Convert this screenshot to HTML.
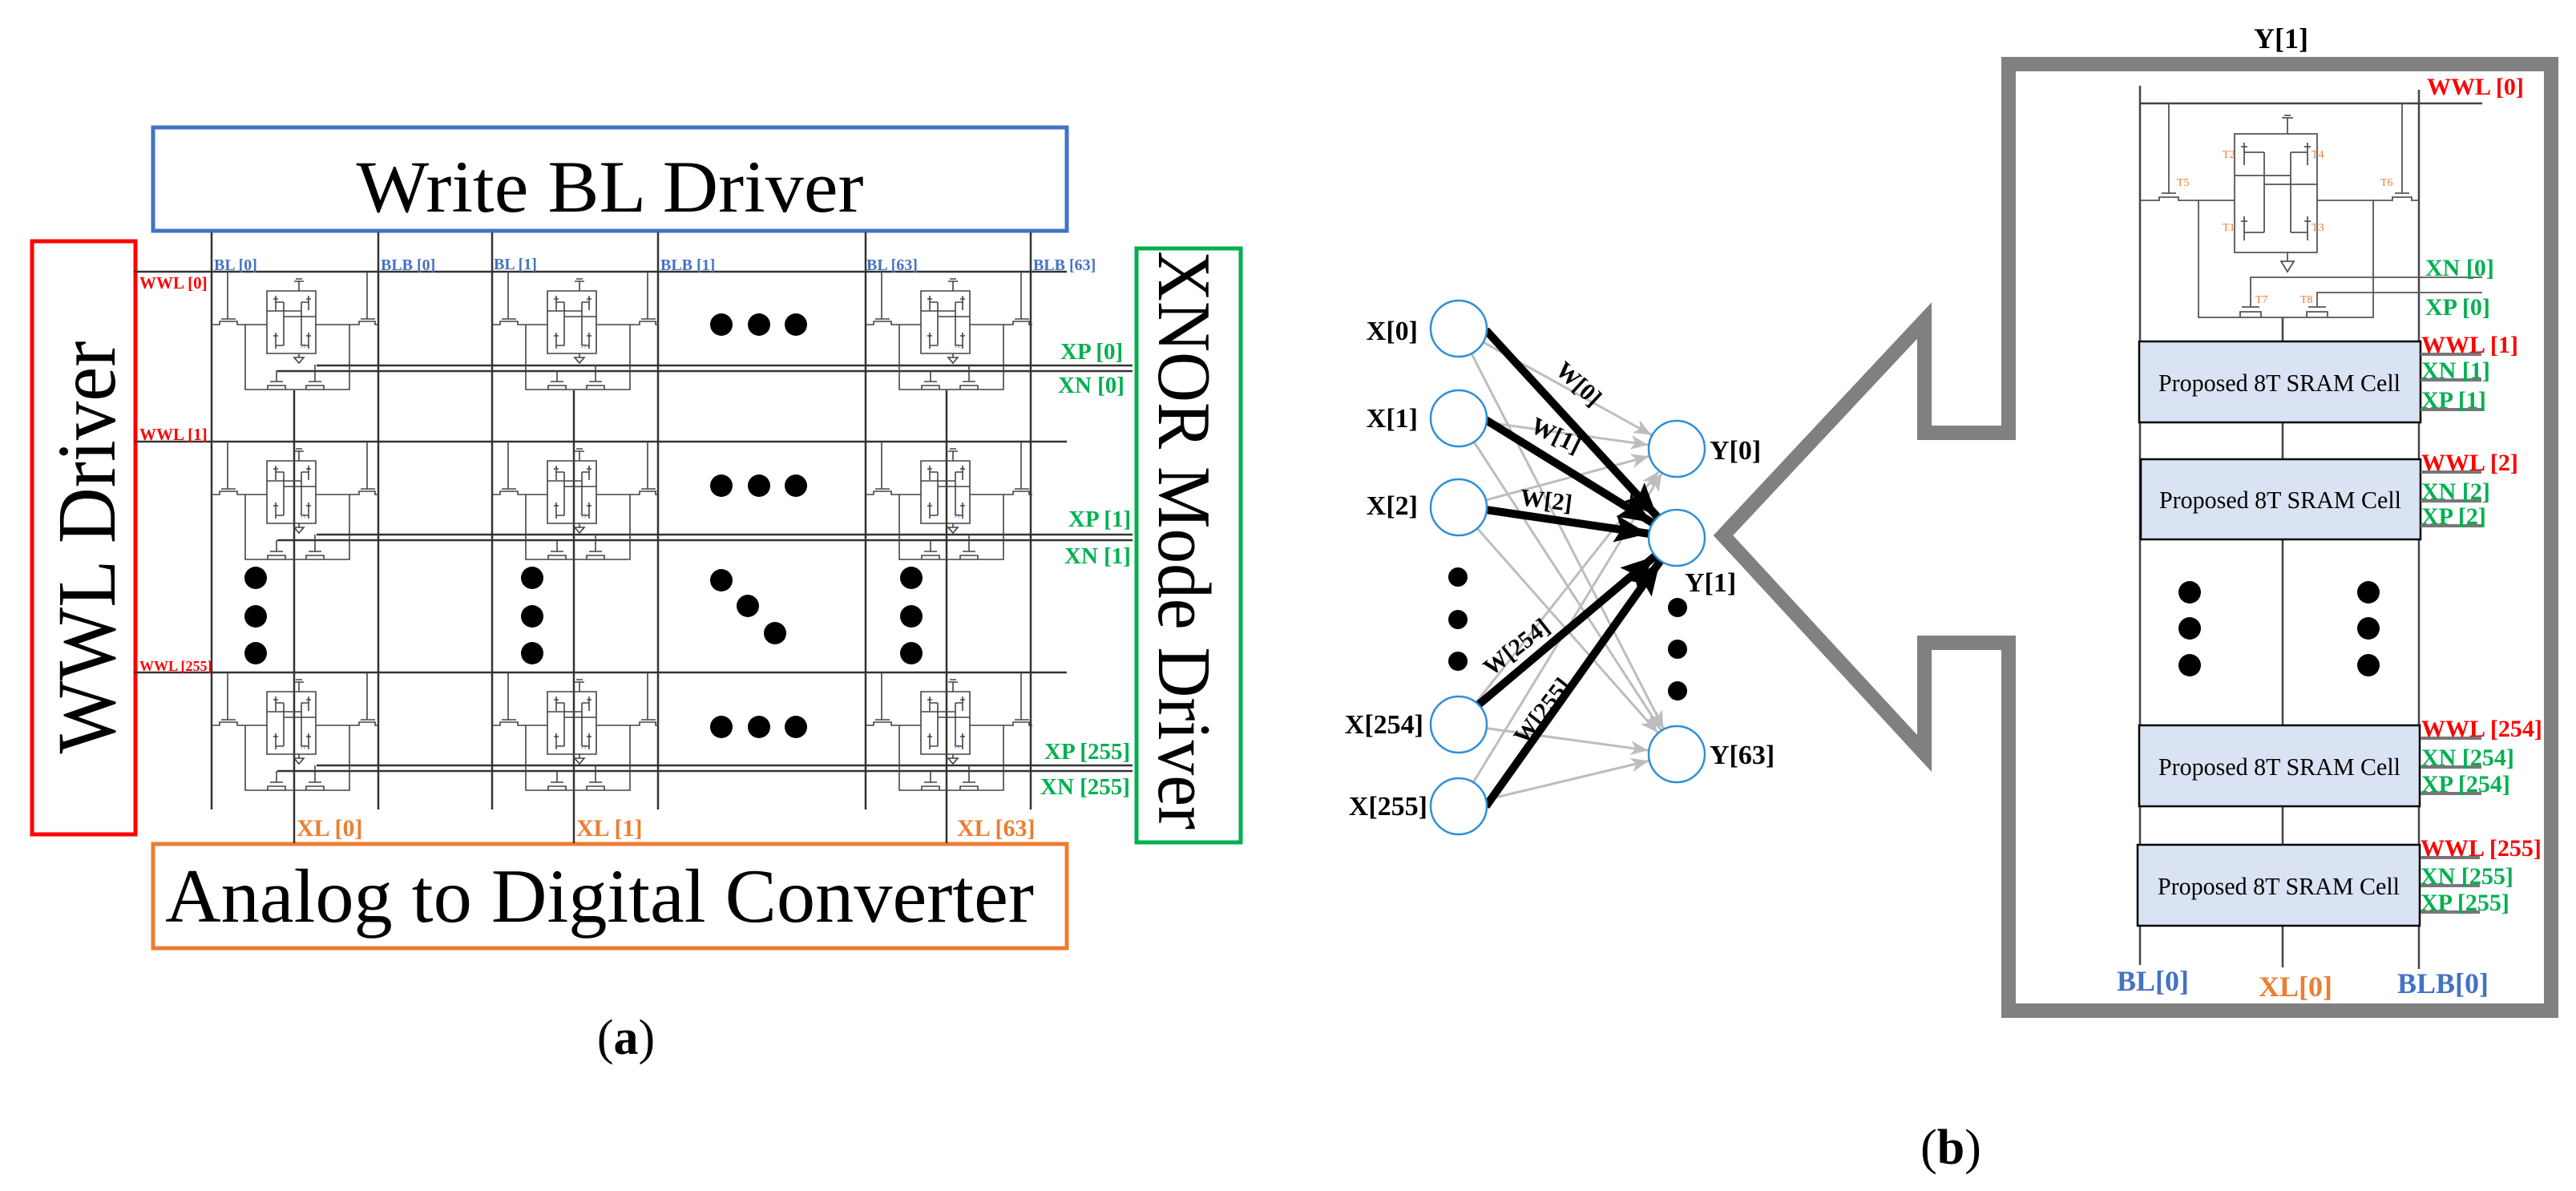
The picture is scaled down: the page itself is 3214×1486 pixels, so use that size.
<!DOCTYPE html>
<html><head><meta charset="utf-8"><style>
html,body{margin:0;padding:0;background:#fff;}
svg{display:block;}
text{font-family:"Liberation Serif",serif;}
</style></head><body>
<svg width="3214" height="1486" viewBox="0 0 3214 1486" xmlns="http://www.w3.org/2000/svg">
<defs>
  <g id="cellA" fill="none" stroke="#444" stroke-width="1.6">
    <path d="M20 0 V59 M12 59 H30 M0 66 H10 V62 H32 V66 H69"/>
    <path d="M194 0 V59 M186 59 H204 M130 66 H184 V62 H204 V66 H208"/>
    <path d="M69 24 V102 H130 V24 Z"/>
    <path d="M109 12 V24 M103 12 H115 M105 9 H113"/>
    <path d="M80 30 V48 M77 34 H83 M80 76 V96 M77 80 H83 M121 30 V48 M118 34 H124 M121 76 V96 M118 80 H124"/>
    <path d="M90 38 V92 M112 38 V92 M69 49 H112 M90 56 H130 M80 38 H90 M112 38 H121 M80 92 H90 M112 92 H121"/>
    <path d="M109 102 V107 M103 107 H115 L109 114 Z"/>
    <path d="M42 66 V147 H172 V66 M70 147 V142 H92 V147 M118 147 V142 H140 V147 M73 137 H89 M121 137 H137 M81 137 V123 M129 137 V116"/>
    <text x="110" y="95" font-size="7" fill="#4472c4" stroke="none">T1</text>
  </g>
  <marker id="ga" markerUnits="userSpaceOnUse" viewBox="-60 -20 80 40" markerWidth="80" markerHeight="40" refX="36" refY="0" orient="auto">
    <path d="M-22,-9 L0,0 L-22,9 L-16,0 Z" fill="#bdbdbd"/>
  </marker>
  <marker id="ba" markerUnits="userSpaceOnUse" viewBox="-80 -30 120 60" markerWidth="120" markerHeight="60" refX="36" refY="0" orient="auto">
    <path d="M-42,-17 L0,0 L-42,17 L-34,0 Z" fill="#000"/>
  </marker>
</defs>

<!-- ============ (a) ============ -->
<rect x="191" y="159" width="1140" height="129" fill="none" stroke="#4472c4" stroke-width="5"/>
<text x="761" y="264" font-size="92" text-anchor="middle" textLength="633" lengthAdjust="spacingAndGlyphs">Write BL Driver</text>
<rect x="40" y="301" width="129" height="740" fill="none" stroke="#ff0000" stroke-width="5"/>
<text transform="translate(143,683) rotate(-90)" font-size="104" text-anchor="middle" textLength="515" lengthAdjust="spacingAndGlyphs">WWL Driver</text>
<rect x="1418" y="310" width="130" height="741" fill="none" stroke="#00b050" stroke-width="5"/>
<text transform="translate(1446,674) rotate(90)" font-size="94" text-anchor="middle" textLength="722" lengthAdjust="spacingAndGlyphs">XNOR Mode Driver</text>
<rect x="191" y="1053" width="1140" height="130" fill="none" stroke="#ed7d31" stroke-width="5"/>
<text x="206" y="1150" font-size="95" textLength="1084" lengthAdjust="spacingAndGlyphs">Analog to Digital Converter</text>

<g stroke="#333" stroke-width="2.5" fill="none">
  <path d="M264 290 V1010 M472 290 V1010 M614 290 V1010 M821 290 V1010 M1080 290 V1010 M1286 290 V1010"/>
  <path d="M168 339 H1331 M168 551 H1331 M168 839 H1331"/>
  <path d="M367 487 V1052 M716 487 V1052 M1181 487 V1052"/>
  <path d="M395 456 H1413 M346 463 H1413 M395 667 H1413 M346 674 H1413 M395 955 H1413 M346 962 H1413"/>
</g>
<use href="#cellA" x="264" y="339"/><use href="#cellA" x="614" y="339"/><use href="#cellA" x="1080" y="339"/>
<use href="#cellA" x="264" y="551"/><use href="#cellA" x="614" y="551"/><use href="#cellA" x="1080" y="551"/>
<use href="#cellA" x="264" y="839"/><use href="#cellA" x="614" y="839"/><use href="#cellA" x="1080" y="839"/>

<g fill="#000">
  <circle cx="900" cy="405" r="14"/><circle cx="947" cy="405" r="14"/><circle cx="993" cy="405" r="14"/>
  <circle cx="900" cy="606" r="14"/><circle cx="947" cy="606" r="14"/><circle cx="993" cy="606" r="14"/>
  <circle cx="900" cy="907" r="14"/><circle cx="947" cy="907" r="14"/><circle cx="993" cy="907" r="14"/>
  <circle cx="319" cy="721" r="14"/><circle cx="319" cy="769" r="14"/><circle cx="319" cy="815" r="14"/>
  <circle cx="664" cy="721" r="14"/><circle cx="664" cy="769" r="14"/><circle cx="664" cy="815" r="14"/>
  <circle cx="1137" cy="721" r="14"/><circle cx="1137" cy="769" r="14"/><circle cx="1137" cy="815" r="14"/>
  <circle cx="900" cy="724" r="14"/><circle cx="933" cy="756" r="14"/><circle cx="967" cy="790" r="14"/>
</g>

<g font-size="20" font-weight="bold" fill="#4472c4">
  <text x="267" y="337">BL [0]</text><text x="475" y="337">BLB [0]</text>
  <text x="616" y="336">BL [1]</text><text x="824" y="337">BLB [1]</text>
  <text x="1081" y="337">BL [63]</text><text x="1289" y="337">BLB [63]</text>
</g>
<g font-size="21" font-weight="bold" fill="#ff0000">
  <text x="174" y="360">WWL [0]</text><text x="174" y="549">WWL [1]</text>
  <text x="174" y="837" font-size="18">WWL [255]</text>
</g>
<g font-size="29" font-weight="bold" fill="#00b050">
  <text x="1323" y="448">XP [0]</text><text x="1320" y="490">XN [0]</text>
  <text x="1333" y="657">XP [1]</text><text x="1328" y="703">XN [1]</text>
  <text x="1303" y="947">XP [255]</text><text x="1298" y="991">XN [255]</text>
</g>
<g font-size="30" font-weight="bold" fill="#ed7d31">
  <text x="370" y="1043">XL [0]</text><text x="719" y="1043">XL [1]</text><text x="1194" y="1043">XL [63]</text>
</g>
<text x="781" y="1315" font-size="62" text-anchor="middle">(<tspan font-weight="bold">a</tspan>)</text>

<!-- ============ NN ============ -->
<g stroke="#bdbdbd" stroke-width="3" fill="none" marker-end="url(#ga)">
  <line x1="1820" y1="410" x2="2092" y2="560"/><line x1="1820" y1="410" x2="2092" y2="941"/>
  <line x1="1820" y1="522" x2="2092" y2="560"/><line x1="1820" y1="522" x2="2092" y2="941"/>
  <line x1="1820" y1="633" x2="2092" y2="560"/><line x1="1820" y1="633" x2="2092" y2="941"/>
  <line x1="1820" y1="904" x2="2092" y2="560"/><line x1="1820" y1="904" x2="2092" y2="941"/>
  <line x1="1820" y1="1006" x2="2092" y2="560"/><line x1="1820" y1="1006" x2="2092" y2="941"/>
</g>
<g stroke="#000" stroke-width="10" fill="none" marker-end="url(#ba)">
  <line x1="1854" y1="412" x2="2092" y2="671"/>
  <line x1="1854" y1="524" x2="2092" y2="671"/>
  <line x1="1854" y1="636" x2="2092" y2="671"/>
  <line x1="1845" y1="879" x2="2092" y2="671"/>
  <line x1="1854" y1="1006" x2="2092" y2="671"/>
</g>
<g fill="#fff" stroke="#2e8fd8" stroke-width="2.5">
  <circle cx="1820" cy="410" r="35"/><circle cx="1820" cy="522" r="35"/><circle cx="1820" cy="633" r="35"/>
  <circle cx="1820" cy="904" r="35"/><circle cx="1820" cy="1006" r="35"/>
  <circle cx="2092" cy="560" r="35"/><circle cx="2092" cy="671" r="35"/><circle cx="2092" cy="941" r="35"/>
</g>
<g fill="#000">
  <circle cx="1819" cy="720" r="12"/><circle cx="1819" cy="773" r="12"/><circle cx="1819" cy="825" r="12"/>
  <circle cx="2093" cy="758" r="12"/><circle cx="2093" cy="810" r="12"/><circle cx="2093" cy="862" r="12"/>
</g>
<g font-size="34" font-weight="bold" text-anchor="end">
  <text x="1769" y="424">X[0]</text><text x="1769" y="533">X[1]</text><text x="1769" y="642">X[2]</text>
  <text x="1776" y="915">X[254]</text><text x="1781" y="1017">X[255]</text>
</g>
<g font-size="34" font-weight="bold">
  <text x="2133" y="573">Y[0]</text><text x="2102" y="738">Y[1]</text><text x="2133" y="953">Y[63]</text>
</g>
<g font-size="30" font-weight="bold" text-anchor="middle">
  <text transform="translate(1963,486) rotate(43)">W[0]</text>
  <text transform="translate(1937,552) rotate(26)">W[1]</text>
  <text transform="translate(1928,634) rotate(7)">W[2]</text>
  <text transform="translate(1898,815) rotate(-38)">W[254]</text>
  <text transform="translate(1932,893) rotate(-52)">W[255]</text>
</g>

<!-- ============ (b) ============ -->
<path d="M2506 540 H2401 V400 L2150 668 L2401 940 V802 H2506 V1261 H3183 V80 H2506 Z" fill="none" stroke="#808080" stroke-width="18" stroke-linejoin="miter" stroke-miterlimit="10"/>
<text x="2846" y="60" font-size="36" font-weight="bold" text-anchor="middle">Y[1]</text>

<g stroke="#444" stroke-width="2.5" fill="none">
  <path d="M2670 107 V1204 M3018 112 V1209 M2848 396 V1207"/>
  <path d="M2670 129 H3097"/>
</g>
<g stroke="#555" stroke-width="1.8" fill="none">
  <path d="M2706 129 V241 M2697 241 H2715 M2670 250 H2694 V246 H2718 V250 H2788"/>
  <path d="M2997 129 V241 M2988 241 H3006 M2891 250 H2985 V246 H3009 V250 H3018"/>
  <path d="M2788 167 V315 H2891 V167 Z"/>
  <path d="M2854 147 V167 M2847 147 H2861 M2850 144 H2858"/>
  <path d="M2800 178 V206 M2796 183 H2804 M2800 270 V300 M2796 276 H2804 M2879 178 V206 M2875 183 H2883 M2879 270 V300 M2875 276 H2883"/>
  <path d="M2825 190 V290 M2858 190 V290 M2788 219 H2858 M2825 230 H2891 M2800 190 H2825 M2858 190 H2879 M2800 290 H2825 M2858 290 H2879"/>
  <path d="M2854 315 V326 M2846 326 H2862 L2854 339 Z"/>
  <path d="M2743 250 V396 H2961 V250 M2795 396 V389 H2821 V396 M2878 396 V389 H2904 V396 M2797 383 H2819 M2880 383 H2902"/>
  <path d="M2808 383 V346 H3097 M2891 383 V365 H3097"/>
</g>
<g font-size="14" fill="#ed7d31">
  <text x="2773" y="197">T2</text><text x="2884" y="197">T4</text>
  <text x="2716" y="232">T5</text><text x="2970" y="232">T6</text>
  <text x="2773" y="288">T1</text><text x="2884" y="288">T3</text>
  <text x="2814" y="378">T7</text><text x="2870" y="378">T8</text>
</g>

<g fill="#dae3f3" stroke="#000" stroke-width="2.5">
  <rect x="2669" y="426" width="351" height="101"/>
  <rect x="2671" y="573" width="349" height="100"/>
  <rect x="2669" y="905" width="350" height="101"/>
  <rect x="2667" y="1054" width="352" height="101"/>
</g>
<g font-size="31" text-anchor="middle">
  <text x="2844" y="488" textLength="302" lengthAdjust="spacingAndGlyphs">Proposed 8T SRAM Cell</text>
  <text x="2845" y="634" textLength="302" lengthAdjust="spacingAndGlyphs">Proposed 8T SRAM Cell</text>
  <text x="2844" y="967" textLength="302" lengthAdjust="spacingAndGlyphs">Proposed 8T SRAM Cell</text>
  <text x="2843" y="1116" textLength="302" lengthAdjust="spacingAndGlyphs">Proposed 8T SRAM Cell</text>
</g>
<g fill="#000">
  <circle cx="2732" cy="739" r="14"/><circle cx="2732" cy="784" r="14"/><circle cx="2732" cy="830" r="14"/>
  <circle cx="2955" cy="739" r="14"/><circle cx="2955" cy="784" r="14"/><circle cx="2955" cy="830" r="14"/>
</g>
<g stroke="#777" stroke-width="4">
  <path d="M3020 442 H3096 M3020 474 H3096 M3020 511 H3096"/>
  <path d="M3020 589 H3096 M3020 625 H3096 M3020 656 H3096"/>
  <path d="M3020 921 H3096 M3020 957 H3096 M3020 990 H3096"/>
  <path d="M3020 1070 H3094 M3020 1105 H3094 M3020 1138 H3094"/>
</g>
<g font-size="30" font-weight="bold">
  <text x="3028" y="118" fill="#ff0000">WWL [0]</text>
  <text x="3026" y="344" fill="#00b050">XN [0]</text>
  <text x="3026" y="393" fill="#00b050">XP [0]</text>
  <text x="3021" y="440" fill="#ff0000">WWL [1]</text>
  <text x="3021" y="472" fill="#00b050">XN [1]</text>
  <text x="3021" y="509" fill="#00b050">XP [1]</text>
  <text x="3021" y="587" fill="#ff0000">WWL [2]</text>
  <text x="3021" y="623" fill="#00b050">XN [2]</text>
  <text x="3021" y="654" fill="#00b050">XP [2]</text>
  <text x="3021" y="919" fill="#ff0000">WWL [254]</text>
  <text x="3021" y="955" fill="#00b050">XN [254]</text>
  <text x="3021" y="988" fill="#00b050">XP [254]</text>
  <text x="3020" y="1068" fill="#ff0000">WWL [255]</text>
  <text x="3020" y="1103" fill="#00b050">XN [255]</text>
  <text x="3020" y="1136" fill="#00b050">XP [255]</text>
</g>
<g font-size="36" font-weight="bold">
  <text x="2641" y="1236" fill="#4472c4">BL[0]</text>
  <text x="2818" y="1243" fill="#ed7d31">XL[0]</text>
  <text x="2991" y="1239" fill="#4472c4">BLB[0]</text>
</g>
<text x="2434" y="1452" font-size="62" text-anchor="middle">(<tspan font-weight="bold">b</tspan>)</text>
</svg>
</body></html>
